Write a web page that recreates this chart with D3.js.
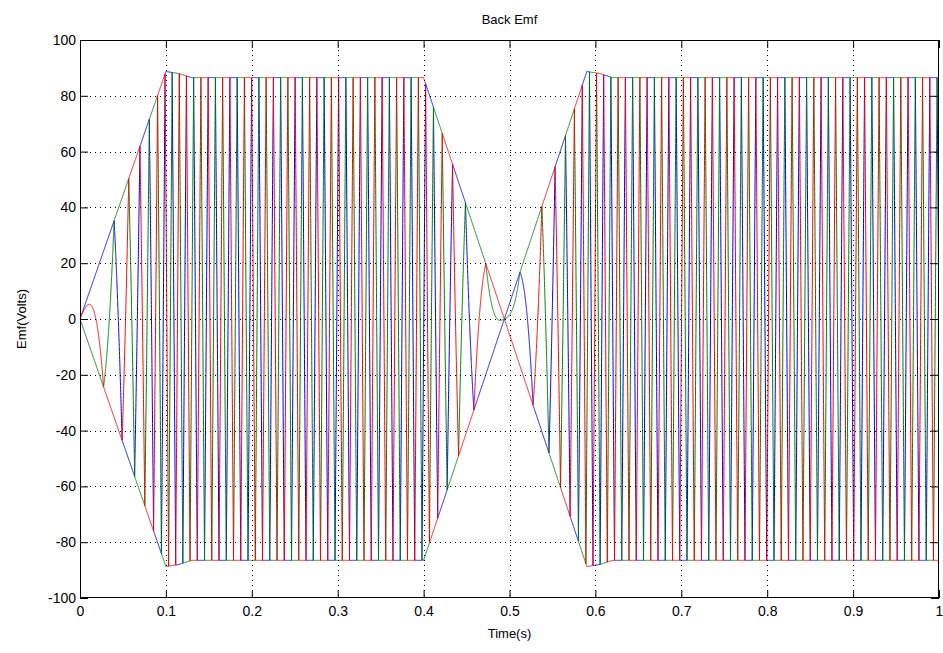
<!DOCTYPE html>
<html>
<head>
<meta charset="utf-8">
<script src="https://cdn.jsdelivr.net/npm/d3@7"></script>
<style>
  body { margin: 0; background: #fff; }
  text { font-family: "Liberation Sans", Arial, sans-serif; font-size: 13px; fill: #000; }
  .tick text { font-size: 14px; }
</style>
</head>
<body>
<svg id="chart" width="943" height="653"></svg>
<script>
// speed profile (volts)
const speedTimes = [0, 0.1, 0.115, 0.13, 0.4, 0.494, 0.59, 0.605, 0.62, 1];
const speedVolts = [0, 88.7, 88, 86.5, 86.5, 0, -88.7, -88, -86.5, -86.5];

// one phase of the trapezoidal emf over an electrical turn (deg -> per unit)
const shapeAngles = [0, 30, 150, 210, 330, 360];
const shapeLevels = [0, 1, 1, -1, -1, 0];

// phases, drawn in this order (red ends on top)
const phaseNames = ["ea", "eb", "ec"];
const phaseShift = [-120, 120, 0];
const phaseColors = ["#0000ff", "#008000", "#ff0000"];

const degPerVoltSec = 164.4; // electrical angle gained per volt*second
const startAngle = 155;      // angle of phase c at t = 0
const sampleStep = 0.00005;

const xTicks = [0, 0.1, 0.2, 0.3, 0.4, 0.5, 0.6, 0.7, 0.8, 0.9, 1];
const xTickLabels = ["0", "0.1", "0.2", "0.3", "0.4", "0.5", "0.6", "0.7", "0.8", "0.9", "1"];
const yTicks = [-100, -80, -60, -40, -20, 0, 20, 40, 60, 80, 100];

const margin = { top: 40, right: 4, bottom: 55, left: 80 };
const width = 943, height = 653;

const svg = d3.select("#chart");

const x = d3.scaleLinear().domain([0, 1]).range([margin.left, width - margin.right]);
const y = d3.scaleLinear().domain([-100, 100]).range([height - margin.bottom, margin.top]);

// emf = speed * shape(angle), angle runs with the integral of |speed|
const speedAt = d3.scaleLinear().domain(speedTimes).range(speedVolts);
const shapeAt = d3.scaleLinear().domain(shapeAngles).range(shapeLevels);

const times = d3.range(0, 1 + sampleStep / 2, sampleStep);
let angle = startAngle;
let prev = 0;
const samples = times.map((t, i) => {
  const w = speedAt(t);
  if (i > 0) angle += degPerVoltSec * (Math.abs(prev) + Math.abs(w)) / 2 * sampleStep;
  prev = w;
  return { t, w, angle };
});

const series = phaseNames.map((name, k) => ({
  name,
  color: phaseColors[k],
  values: samples.map(s => {
    let a = (s.angle + phaseShift[k]) % 360;
    if (a < 0) a += 360;
    return { t: s.t, v: s.w * shapeAt(a) };
  })
}));

svg.append("defs").append("clipPath").attr("id", "plot-clip")
  .append("rect")
  .attr("x", margin.left).attr("y", margin.top)
  .attr("width", width - margin.left - margin.right)
  .attr("height", height - margin.top - margin.bottom);

const line = d3.line().x(d => x(d.t)).y(d => y(d.v));

svg.append("g").attr("clip-path", "url(#plot-clip)")
  .selectAll("path")
  .data(series)
  .join("path")
  .attr("d", d => line(d.values))
  .attr("fill", "none")
  .attr("stroke", d => d.color)
  .attr("stroke-width", 1);

// dotted grid
const grid = svg.append("g").attr("stroke", "#000").attr("stroke-width", 1)
  .attr("stroke-dasharray", "1,4");
grid.selectAll("line.gx")
  .data(xTicks.slice(1, -1))
  .join("line")
  .attr("x1", d => Math.round(x(d)) + 0.5).attr("x2", d => Math.round(x(d)) + 0.5)
  .attr("y1", margin.top).attr("y2", height - margin.bottom);
grid.selectAll("line.gy")
  .data(yTicks.slice(1, -1))
  .join("line")
  .attr("y1", d => Math.round(y(d)) + 0.5).attr("y2", d => Math.round(y(d)) + 0.5)
  .attr("x1", margin.left).attr("x2", width - margin.right);

// axes with inward ticks on all sides
const tickLen = 8;
const xBottom = d3.axisBottom(x).tickValues(xTicks).tickSizeInner(-tickLen).tickSizeOuter(0)
  .tickPadding(8).tickFormat((d, i) => xTickLabels[i]);
const yLeft = d3.axisLeft(y).tickValues(yTicks).tickSizeInner(-tickLen).tickSizeOuter(0)
  .tickPadding(4).tickFormat(d => String(d));
const xTop = d3.axisTop(x).tickValues(xTicks).tickSizeInner(-tickLen).tickSizeOuter(0).tickFormat("");
const yRight = d3.axisRight(y).tickValues(yTicks).tickSizeInner(-tickLen).tickSizeOuter(0).tickFormat("");

function styleAxis(g) {
  g.select(".domain").remove();
  g.selectAll("line").attr("stroke", "#000");
  g.selectAll("text").attr("font-family", null).attr("font-size", null).attr("fill", "#000");
}

svg.append("g").attr("transform", `translate(0,${y(-100)})`).call(xBottom).call(styleAxis);
svg.append("g").attr("transform", `translate(0,${y(100)})`).call(xTop).call(styleAxis);
svg.append("g").attr("transform", `translate(${x(0)},0)`).call(yLeft).call(styleAxis);
svg.append("g").attr("transform", `translate(${x(1)},0)`).call(yRight).call(styleAxis);

svg.append("rect")
  .attr("x", margin.left + 0.5).attr("y", margin.top + 0.5)
  .attr("width", width - margin.left - margin.right - 1)
  .attr("height", height - margin.top - margin.bottom - 1)
  .attr("fill", "none").attr("stroke", "#000").attr("stroke-width", 1);

svg.append("text")
  .attr("x", (x(0) + x(1)) / 2).attr("y", 24)
  .attr("text-anchor", "middle")
  .text("Back Emf");

svg.append("text")
  .attr("x", (x(0) + x(1)) / 2).attr("y", 638)
  .attr("text-anchor", "middle")
  .text("Time(s)");

svg.append("text")
  .attr("transform", `translate(26,${(y(-100) + y(100)) / 2}) rotate(-90)`)
  .attr("text-anchor", "middle")
  .text("Emf(Volts)");
</script>
</body>
</html>
